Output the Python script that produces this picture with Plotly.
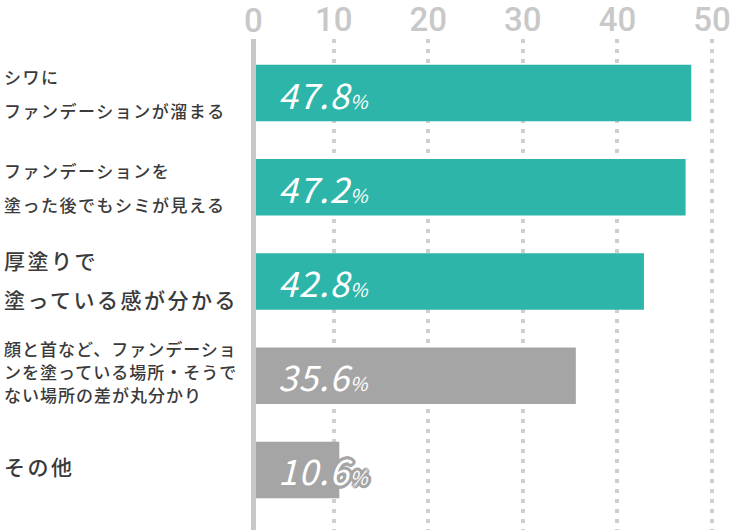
import plotly.graph_objects as go

# ---- data ----
categories = [
    "シワにファンデーションが溜まる",
    "ファンデーションを塗った後でもシミが見える",
    "厚塗りで塗っている感が分かる",
    "顔と首など、ファンデーションを塗っている場所・そうでない場所の差が丸分かり",
    "その他",
]
label_lines = [
    ["シワに", "ファンデーションが溜まる"],
    ["ファンデーションを", "塗った後でもシミが見える"],
    ["厚塗りで", "塗っている感が分かる"],
    ["顔と首など、ファンデーショ", "ンを塗っている場所・そうで", "ない場所の差が丸分かり"],
    ["その他"],
]
values = [47.8, 47.2, 42.8, 35.6, 10.6]
tick_values = [10, 20, 30, 40, 50]
tick_labels = ["10", "20", "30", "40", "50"]
origin_label = "0"

# ---- styles ----
TEAL = "#2eb5a9"
GRAY = "#a5a5a5"
bar_colors = [TEAL, TEAL, TEAL, GRAY, GRAY]
label_sizes = [17, 17, 21, 17, 21]
label_pitch = [34, 34, 39, 23, 0]
label_spacing = [1.5, 1.5, 2.5, 1, 2.5]
label_offset = [0, 0, -2, -4, -4]
JP = "Noto Sans CJK JP"
TICKFONT = dict(family="Roboto", size=33, color="#c8c8c8", weight=500)

fig = go.Figure()
fig.add_trace(go.Bar(
    y=categories, x=values, orientation="h",
    marker=dict(color=bar_colors, line=dict(width=0)),
    width=0.6, hoverinfo="skip",
))

annotations = []
for cat, lines, sz, pitch, sp, off in zip(categories, label_lines, label_sizes,
                                          label_pitch, label_spacing, label_offset):
    n = len(lines)
    for i, ln in enumerate(lines):
        dy = (i - (n - 1) / 2) * pitch + off
        annotations.append(dict(
            x=0, xref="paper", y=cat, yref="y",
            xanchor="left", yanchor="middle", xshift=-254, yshift=-dy,
            text=f"<span style='letter-spacing:{sp}px'>{ln}</span>",
            showarrow=False, align="left",
            font=dict(family=JP, size=sz, color="#3a3a3a", weight=500),
        ))

outline = ", ".join(f"{dx}px {dy}px 0 {GRAY}" for dx, dy in
                    [(3, 0), (-3, 0), (0, 3), (0, -3), (2, 2), (-2, 2), (2, -2), (-2, -2),
                     (3, 1), (3, -1), (-3, 1), (-3, -1), (1, 3), (-1, 3), (1, -3), (-1, -3)])
for i, (cat, v) in enumerate(zip(categories, values)):
    annotations.append(dict(
        x=0, xref="paper", y=cat, yref="y", xanchor="left", yanchor="middle",
        xshift=20, yshift=0, showarrow=False,
        text=f"<span style='letter-spacing:1px'>{v:.1f}</span><span style='font-size:19px'>%</span>",
        font=dict(family=JP, size=35, color="white", style="italic", weight=400,
                  shadow=outline if i == len(values) - 1 else "none"),
    ))

# "0" label sits at the axis line
annotations.append(dict(
    x=0, xref="paper", y=1, yref="paper", xanchor="center", yanchor="bottom",
    xshift=-3, yshift=-2, showarrow=False, text=origin_label, font=TICKFONT,
    borderpad=0,
))

fig.update_layout(
    width=750, height=530,
    margin=dict(l=256, r=19, t=39, b=0, pad=0),
    paper_bgcolor="white", plot_bgcolor="white",
    showlegend=False, bargap=0.4,
    annotations=annotations,
    xaxis=dict(
        range=[1.795, 52], side="top", tickvals=tick_values, ticktext=tick_labels,
        showgrid=True, gridcolor="#cfcfcf", gridwidth=4, griddash="4px,6px",
        zeroline=False, showline=False, ticks="", automargin=False,
        tickfont=TICKFONT, ticklabelstandoff=0, fixedrange=True,
    ),
    yaxis=dict(
        type="category", categoryorder="array", categoryarray=categories,
        range=[4.638, -0.574], showticklabels=False, showgrid=False,
        zeroline=False, showline=True, linecolor="#c8c8c8", linewidth=5,
        ticks="", fixedrange=True, automargin=False,
    ),
)

fig.write_html("out.html")
